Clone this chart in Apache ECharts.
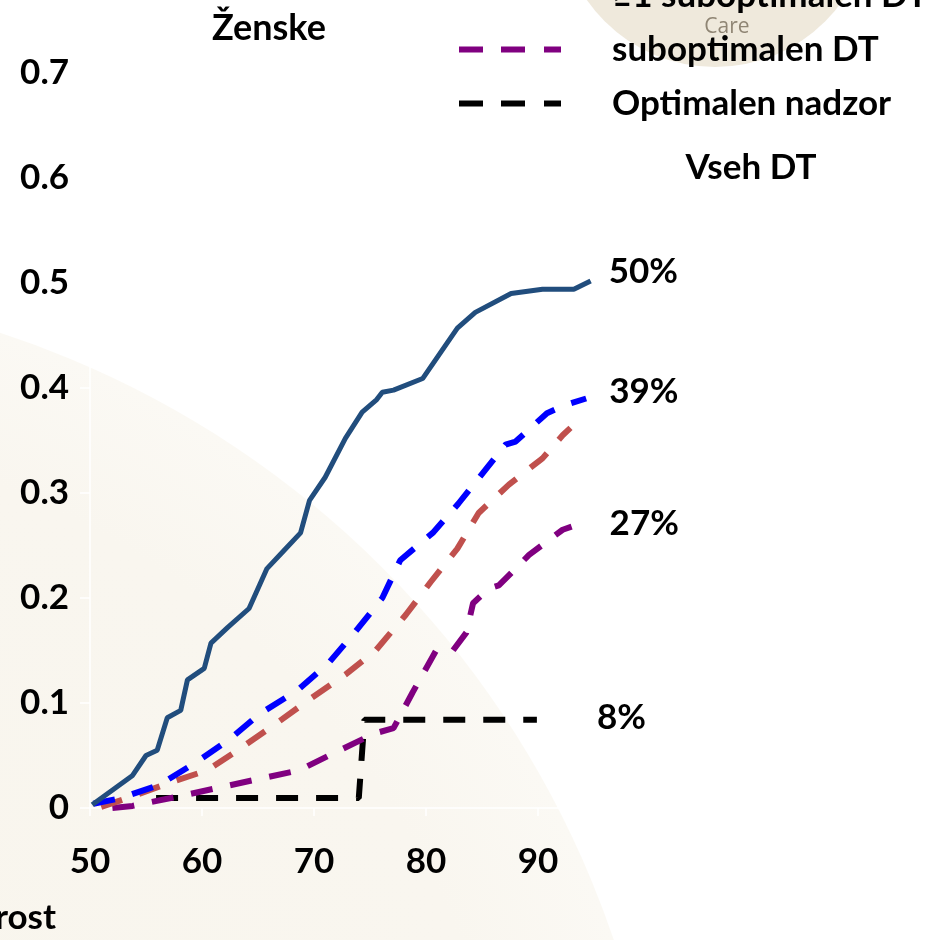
<!DOCTYPE html>
<html>
<head>
<meta charset="utf-8">
<script src="https://cdn.jsdelivr.net/npm/echarts@6/dist/echarts.min.js"></script>
<style>
  html, body { margin: 0; padding: 0; background: #fff; }
  #chart { width: 935px; height: 940px; }
</style>
</head>
<body>
<div id="chart"></div>
<script>
// starost (leta) / delež
const navyAge = [50.2, 53.8, 55.0, 56.0, 56.9, 58.1, 58.7, 60.2, 60.8, 62.3, 64.2, 65.8, 67.3, 68.8, 69.6, 71.0, 72.8, 74.3, 75.6, 76.1, 77.1, 79.7, 82.8, 84.4, 87.6, 90.4, 93.2, 94.7];
const navyVal = [0.003, 0.031, 0.050, 0.055, 0.086, 0.093, 0.122, 0.133, 0.157, 0.172, 0.190, 0.228, 0.245, 0.262, 0.293, 0.315, 0.352, 0.377, 0.389, 0.396, 0.398, 0.409, 0.457, 0.472, 0.490, 0.494, 0.494, 0.502];

const blueAge = [50.3, 52.6, 56.2, 59.4, 62.4, 65.2, 68.5, 71.3, 73.7, 76.1, 77.7, 80.6, 82.9, 85.3, 87.1, 88.0, 90.8, 92.5, 94.3];
const blueVal = [0.004, 0.009, 0.022, 0.043, 0.065, 0.090, 0.112, 0.138, 0.168, 0.200, 0.236, 0.262, 0.290, 0.322, 0.346, 0.349, 0.376, 0.384, 0.390];

const redAge = [51.0, 53.5, 57.1, 60.5, 63.6, 66.7, 69.8, 72.8, 75.5, 78.2, 80.4, 82.8, 84.7, 87.4, 90.4, 92.2, 92.9];
const redVal = [0.001, 0.010, 0.024, 0.036, 0.058, 0.081, 0.105, 0.127, 0.150, 0.184, 0.215, 0.247, 0.281, 0.308, 0.333, 0.355, 0.362];

const purpleAge = [52.0, 53.8, 57.9, 64.8, 68.7, 71.9, 75.4, 77.1, 78.8, 80.9, 82.4, 83.6, 84.2, 85.6, 86.5, 89.2, 92.2, 93.0];
const purpleVal = [0.0, 0.002, 0.011, 0.027, 0.036, 0.053, 0.071, 0.076, 0.110, 0.150, 0.150, 0.167, 0.195, 0.209, 0.212, 0.241, 0.265, 0.268];

const blackAge = [55.9, 74.0, 74.5, 89.9];
const blackVal = [0.0095, 0.0095, 0.084, 0.084];

const seriesNames = ["Vseh DT", "≥1 suboptimalen DT", "≥2 suboptimalen DT", "suboptimalen DT", "Optimalen nadzor"];
const endTags = ["50%", "39%", "", "27%", "8%"];

const font = "Lato";
const bold = { fontFamily: font, fontWeight: "bold", fontSize: 35, color: "#000" };
// dashed legend sample
const dashIcon = "path://M0,0h24v6h-24z M42,0h24v6h-24z M85,0h17v6h-17z";

function pairs(ages, vals) {
  return ages.map((a, i) => [a, vals[i]]);
}

function makeLine(i, ages, vals, color, width, dashed, dist, offY) {
  return {
    name: seriesNames[i],
    type: "line",
    symbol: "none",
    color: color,
    data: pairs(ages, vals),
    lineStyle: { color: color, width: width, type: dashed ? [22, 18] : "solid", cap: "butt" },
    z: 10 - i,
    endLabel: {
      show: endTags[i] !== "",
      formatter: endTags[i],
      distance: dist,
      offset: [0, offY],
      ...bold,
    },
  };
}

const chart = echarts.init(document.getElementById("chart"));
chart.setOption({
  backgroundColor: "#ffffff",
  animation: false,
  title: {
    text: "Ženske",
    left: 207,
    top: 5,
    textStyle: { ...bold, fontSize: 36 },
  },
  legend: {
    orient: "vertical",
    left: 454,
    top: -27,
    itemWidth: 102,
    itemHeight: 6,
    itemGap: 19,
    icon: dashIcon,
    data: [seriesNames[1], seriesNames[3], seriesNames[4]],
    textStyle: { ...bold, lineHeight: 35, padding: [0, 0, 0, 46] },
    selectedMode: false,
  },
  grid: { left: 90, top: 73, width: 504, height: 735, containLabel: false },
  xAxis: {
    type: "value",
    min: 50,
    max: 95,
    interval: 10,
    axisLine: { show: true, lineStyle: { color: "#ffffff", width: 1.5 } },
    axisTick: { show: true, length: 8, lineStyle: { color: "#ffffff", width: 1.5 } },
    splitLine: { show: false },
    axisLabel: {
      ...bold,
      margin: 36,
      formatter: (v) => (v % 10 === 0 ? String(v) : ""),
    },
  },
  yAxis: {
    type: "value",
    min: 0,
    max: 0.7,
    interval: 0.1,
    axisLine: { show: true, lineStyle: { color: "#ffffff", width: 1.5 } },
    axisTick: { show: true, length: 10, lineStyle: { color: "#ffffff", width: 1.5 } },
    splitLine: { show: false },
    axisLabel: { ...bold, margin: 21 },
  },
  graphic: [
    {
      type: "circle",
      z: -20,
      silent: true,
      shape: { cx: -300, cy: 1250, r: 965 },
      style: {
        fill: {
          type: "radial", x: 0.5, y: 0.5, r: 0.5,
          colorStops: [
            { offset: 0, color: "#f8f5ec" },
            { offset: 0.85, color: "#f9f6ef" },
            { offset: 1, color: "#fbf9f4" },
          ],
        },
      },
    },
    {
      type: "circle",
      z: -19,
      silent: true,
      shape: { cx: 715, cy: -89, r: 156 },
      style: { fill: "#efe9dc" },
    },
    {
      type: "text",
      z: -18,
      silent: true,
      x: 727,
      y: 27,
      style: {
        text: "Care",
        fontFamily: "Open Sans",
        fontSize: 21,
        fill: "#8f8574",
        align: "center",
        verticalAlign: "middle",
      },
    },
    {
      type: "text",
      x: 751,
      y: 168,
      style: {
        text: "Vseh DT",
        font: "bold 35px Lato",
        fill: "#000",
        align: "center",
        verticalAlign: "middle",
      },
    },
    {
      type: "text",
      x: 56,
      y: 918,
      style: {
        text: "Starost",
        font: "bold 35px Lato",
        fill: "#000",
        align: "right",
        verticalAlign: "middle",
      },
    },
  ],
  series: [
    makeLine(0, navyAge, navyVal, "#214d7d", 5, false, 18, -9),
    makeLine(1, blueAge, blueVal, "#0000ff", 6, true, 23, -7),
    makeLine(2, redAge, redVal, "#c0504d", 6, true, 20, 0),
    makeLine(3, purpleAge, purpleVal, "#800080", 6, true, 38, -3),
    makeLine(4, blackAge, blackVal, "#000000", 6, true, 60, -2),
  ],
});
window.addEventListener("resize", function () {
  chart.resize();
});
</script>
</body>
</html>
